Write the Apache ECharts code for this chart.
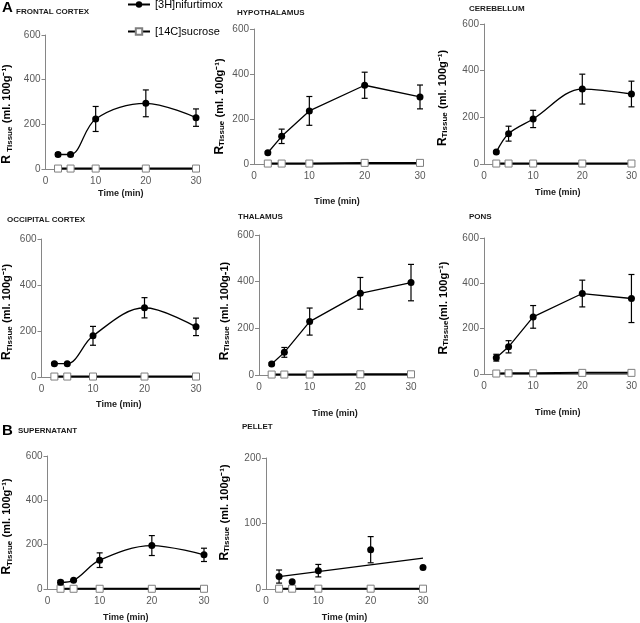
<!DOCTYPE html>
<html><head><meta charset="utf-8">
<script src="https://cdn.jsdelivr.net/npm/echarts@6/dist/echarts.min.js"></script>
<style>html,body{margin:0;padding:0;background:#fff}#c{width:640px;height:623px}</style>
</head><body><div id="c"></div>
<script>
// ---------- data ----------
const TIME = [2.5, 5, 10, 20, 30];
const NIF_NAME = '[3H]nifurtimox';
const SUC_NAME = '[14C]sucrose';
const X_NAME = 'Time (min)';

const FRONTAL_NIF = [65, 65, 224, 294, 230];
const FRONTAL_ERR = [8, 6, 56, 60, 39];
const FRONTAL_SUC = [2, 2, 2, 2, 2];

const HYPO_NIF = [50, 123, 236, 350, 298];
const HYPO_ERR = [5, 32, 64, 58, 53];
const HYPO_SUC = [2, 2, 2, 5, 5];

const CEREB_NIF = [51, 130, 193, 321, 300];
const CEREB_ERR = [5, 32, 37, 64, 55];
const CEREB_SUC = [2, 2, 2, 2, 2];

const OCC_NIF = [58, 58, 179, 301, 218];
const OCC_ERR = [5, 5, 41, 44, 38];
const OCC_SUC = [2, 2, 2, 2, 2];

const THAL_NIF = [47, 97, 229, 350, 396];
const THAL_ERR = [5, 21, 58, 68, 78];
const THAL_SUC = [2, 2, 2, 3, 3];

const PONS_NIF = [72, 120, 252, 355, 333];
const PONS_ERR = [15, 27, 50, 59, 106];
const PONS_SUC = [2, 3, 3, 5, 5];

const SUPER_NIF = [30, 39, 130, 196, 154];
const SUPER_ERR = [9, 4, 33, 45, 30];
const SUPER_SUC = [1, 1, 1, 1, 1];

const PELLET_NIF = [19, 11, 28, 60, 33];
const PELLET_ERR = [10, 0, 9.5, 20, 0];
const PELLET_SUC = [0.5, 0.5, 0.5, 0.5, 0.5];

const BRAIN_Y_MAX = 600, BRAIN_Y_STEP = 200;
const PELLET_Y_MAX = 200, PELLET_Y_STEP = 100;

const PANEL_TITLES = ['FRONTAL CORTEX', 'HYPOTHALAMUS', 'CEREBELLUM', 'OCCIPITAL CORTEX', 'THALAMUS', 'PONS', 'SUPERNATANT', 'PELLET'];
const Y_UNITS = ['(ml. 100g⁻¹)', '(ml. 100g⁻¹)', '(ml. 100g⁻¹)', '(ml. 100g⁻¹)', '(ml. 100g-1)', '(ml. 100g⁻¹)', '(ml. 100g⁻¹)', '(ml. 100g⁻¹)'];
const Y_SUBSEP = [' ', '', '', '', '', '', '', ''];
const Y_UNITSEP = [' ', ' ', ' ', ' ', ' ', '', ' ', ' '];

// ---------- layout ----------
const LAYOUT = [
  {l: 42,  t: 35,  w: 154, h: 134, xg: 20, yg: 31, ys: 12,  mode: 'smooth'},
  {l: 254, t: 29,  w: 166, h: 135, xg: 33, yg: 27, ys: 10,  mode: 'line'},
  {l: 484, t: 24,  w: 149, h: 140, xg: 24, yg: 34, ys: 4,   mode: 'smooth'},
  {l: 40,  t: 239, w: 156, h: 138, xg: 23, yg: 27, ys: 4,   mode: 'smooth'},
  {l: 259, t: 235, w: 152, h: 140, xg: 34, yg: 27, ys: 6,   mode: 'line'},
  {l: 484, t: 238, w: 152, h: 136, xg: 34, yg: 33, ys: 2,   mode: 'line'},
  {l: 45,  t: 456, w: 159, h: 134, xg: 24, yg: 33, ys: 4,   mode: 'smooth'},
  {l: 266, t: 458, w: 157, h: 131, xg: 24, yg: 34, ys: -11, mode: 'trend'}
];
const TITLE_POS = [[16, 8], [237, 9], [469, 5], [7, 216], [238, 213], [469, 213], [18, 427], [242, 423]];

const PANEL_DATA = [
  [FRONTAL_NIF, FRONTAL_ERR, FRONTAL_SUC],
  [HYPO_NIF, HYPO_ERR, HYPO_SUC],
  [CEREB_NIF, CEREB_ERR, CEREB_SUC],
  [OCC_NIF, OCC_ERR, OCC_SUC],
  [THAL_NIF, THAL_ERR, THAL_SUC],
  [PONS_NIF, PONS_ERR, PONS_SUC],
  [SUPER_NIF, SUPER_ERR, SUPER_SUC],
  [PELLET_NIF, PELLET_ERR, PELLET_SUC]
];

const FONT = 'Liberation Sans, Arial, sans-serif';
const AXIS_COLOR = '#868686';
const LABEL_COLOR = '#595959';

function renderErr(params, api) {
  const x = api.value(0), lo = api.value(1), hi = api.value(2);
  if (hi - lo <= 0) return null;
  const p1 = api.coord([x, hi]), p2 = api.coord([x, lo]);
  const w = 3;
  const st = {stroke: '#000', lineWidth: 1.2};
  return {type: 'group', children: [
    {type: 'line', shape: {x1: p1[0], y1: p1[1], x2: p2[0], y2: p2[1]}, style: st},
    {type: 'line', shape: {x1: p1[0] - w, y1: p1[1], x2: p1[0] + w, y2: p1[1]}, style: st},
    {type: 'line', shape: {x1: p2[0] - w, y1: p2[1], x2: p2[0] + w, y2: p2[1]}, style: st}
  ]};
}

function linReg(xs, ys) {
  const n = xs.length;
  const mx = xs.reduce((a, b) => a + b, 0) / n, my = ys.reduce((a, b) => a + b, 0) / n;
  let sxy = 0, sxx = 0;
  for (let i = 0; i < n; i++) { sxy += (xs[i] - mx) * (ys[i] - my); sxx += (xs[i] - mx) ** 2; }
  const b = sxy / sxx; return [my - b * mx, b];
}

const grid = [], xAxis = [], yAxis = [], series = [];
const title = [
  {text: 'A', left: 2, top: 0, padding: 0, textStyle: {fontSize: 15, fontWeight: 'bold', color: '#000', fontFamily: FONT}},
  {text: 'B', left: 2, top: 423, padding: 0, textStyle: {fontSize: 15, fontWeight: 'bold', color: '#000', fontFamily: FONT}}
];

LAYOUT.forEach((L, i) => {
  const [nif, err, suc] = PANEL_DATA[i];
  const isPellet = L.mode === 'trend';
  title.push({text: PANEL_TITLES[i], left: TITLE_POS[i][0], top: TITLE_POS[i][1], padding: 0,
    textStyle: {fontSize: 8, fontWeight: 'bold', color: '#1a1a1a', fontFamily: FONT}});
  grid.push({left: L.l, top: L.t, width: L.w, height: L.h});
  xAxis.push({type: 'value', gridIndex: i, min: 0, max: 30, interval: 10,
    name: X_NAME, nameLocation: 'middle', nameGap: L.xg,
    nameTextStyle: {fontSize: 9, fontWeight: 'bold', color: '#1a1a1a', fontFamily: FONT},
    axisLine: {lineStyle: {color: AXIS_COLOR, width: 1}},
    axisTick: {show: false}, splitLine: {show: false},
    axisLabel: {fontSize: 10, color: LABEL_COLOR, margin: 7, fontFamily: FONT}});
  const pad = L.ys >= 0 ? [0, 2 * L.ys, 0, 0] : [0, 0, 0, -2 * L.ys];
  yAxis.push({type: 'value', gridIndex: i, min: 0,
    max: isPellet ? PELLET_Y_MAX : BRAIN_Y_MAX, interval: isPellet ? PELLET_Y_STEP : BRAIN_Y_STEP,
    name: '{r|R}' + Y_SUBSEP[i] + '{s|Tissue}' + Y_UNITSEP[i] + '{u|' + Y_UNITS[i] + '}',
    nameLocation: 'middle', nameGap: L.yg, nameRotate: 90,
    nameTextStyle: {padding: pad, fontFamily: FONT, color: '#000', rich: {
      r: {fontSize: 12, fontWeight: 'bold', color: '#000', fontFamily: FONT, lineHeight: 15},
      s: {fontSize: 8, fontWeight: 'bold', color: '#000', fontFamily: FONT, verticalAlign: 'bottom', padding: [0, 0, 1, 0]},
      u: {fontSize: 11, fontWeight: 'bold', color: '#000', fontFamily: FONT}
    }},
    axisLine: {show: true, lineStyle: {color: AXIS_COLOR, width: 1}},
    axisTick: {show: true, length: 4, lineStyle: {color: AXIS_COLOR}},
    splitLine: {show: false},
    axisLabel: {fontSize: 10, color: LABEL_COLOR, margin: 5, fontFamily: FONT}});

  series.push({type: 'custom', name: 'err' + i, xAxisIndex: i, yAxisIndex: i, renderItem: renderErr, silent: true, z: 2,
    encode: {x: 0, y: [1, 2]},
    data: TIME.map((t, k) => [t, nif[k] - err[k], nif[k] + err[k]])});
  series.push({type: 'line', name: SUC_NAME, xAxisIndex: i, yAxisIndex: i, z: 3,
    data: TIME.map((t, k) => [t, suc[k]]), symbol: 'rect', symbolSize: 7, showAllSymbol: true,
    lineStyle: {color: '#000', width: 2}, itemStyle: {color: '#fff', borderColor: '#7f7f7f', borderWidth: 1}});
  if (isPellet) {
    const [a, b] = linReg(TIME, nif);
    const x0 = TIME[0], x1 = TIME[TIME.length - 1];
    series.push({type: 'line', name: 'trend', xAxisIndex: i, yAxisIndex: i, z: 3, symbol: 'none', silent: true,
      data: [[x0, a + b * x0], [x1, a + b * x1]], lineStyle: {color: '#000', width: 1.3}});
    series.push({type: 'scatter', name: NIF_NAME, xAxisIndex: i, yAxisIndex: i, z: 4,
      data: TIME.map((t, k) => [t, nif[k]]), symbol: 'circle', symbolSize: 7, itemStyle: {color: '#000', opacity: 1}});
  } else {
    series.push({type: 'line', name: NIF_NAME, xAxisIndex: i, yAxisIndex: i, z: 4,
      smooth: L.mode === 'smooth' ? 0.35 : false,
      data: TIME.map((t, k) => [t, nif[k]]), symbol: 'circle', symbolSize: 7, showAllSymbol: true,
      lineStyle: {color: '#000', width: 1.3}, itemStyle: {color: '#000'}});
  }
});

const chart = echarts.init(document.getElementById('c'), null, {renderer: 'canvas'});
chart.setOption({
  animation: false,
  backgroundColor: '#fff',
  title: title,
  legend: {data: [NIF_NAME, SUC_NAME], orient: 'vertical', left: 127, top: -1, padding: 0,
    itemWidth: 22, itemHeight: 8, itemGap: 16,
    textStyle: {fontSize: 11, color: '#000', fontFamily: FONT}},
  grid: grid, xAxis: xAxis, yAxis: yAxis, series: series
});
</script>
</body></html>
